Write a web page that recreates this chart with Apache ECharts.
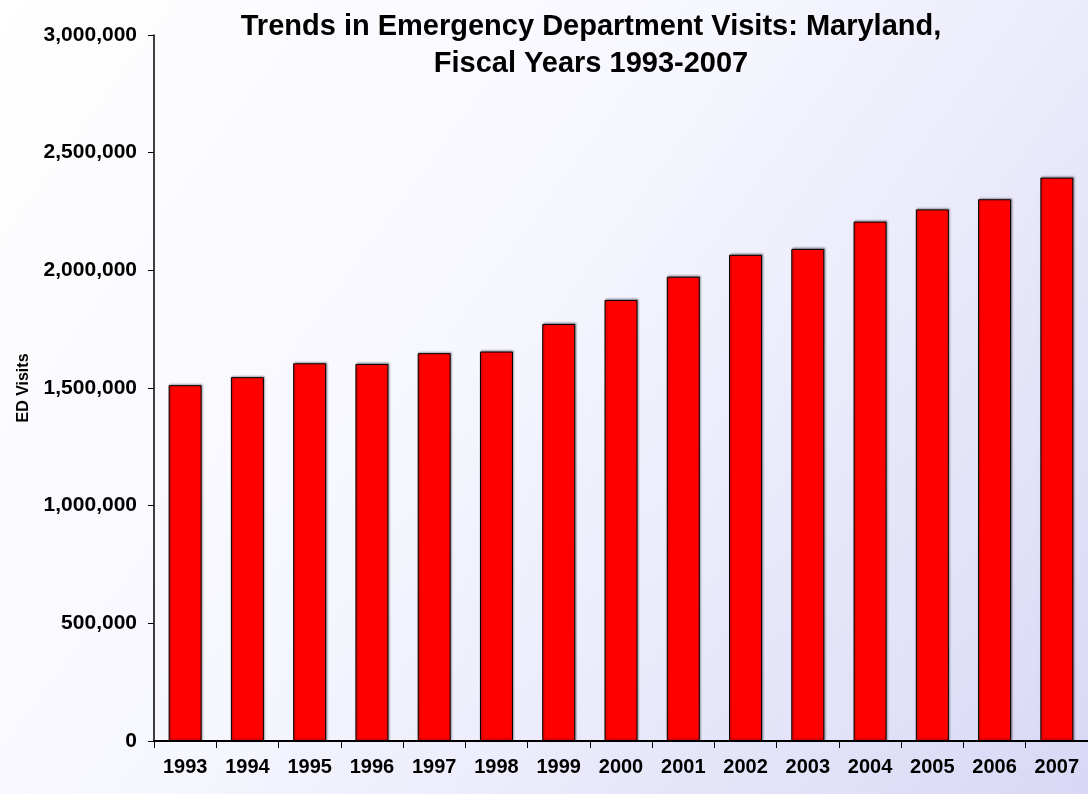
<!DOCTYPE html>
<html>
<head>
<meta charset="utf-8">
<script src="https://cdn.jsdelivr.net/npm/echarts@6/dist/echarts.min.js"></script>
<style>
  html, body { margin: 0; padding: 0; }
  #chart { width: 1088px; height: 794px; }
</style>
</head>
<body>
<div id="chart"></div>
<script>
var years = ['1993', '1994', '1995', '1996', '1997', '1998', '1999', '2000',
             '2001', '2002', '2003', '2004', '2005', '2006', '2007'];
var visits = [1512000, 1546000, 1605000, 1602000, 1648000, 1655000, 1772000, 1874000,
              1973000, 2066000, 2091000, 2207000, 2259000, 2302000, 2394000];
var yTicks = [0, 500000, 1000000, 1500000, 2000000, 2500000, 3000000];

var chart = echarts.init(document.getElementById('chart'));

function fmt(v) {
    return v.toString().replace(/\B(?=(\d{3})+(?!\d))/g, ',');
}

chart.setOption({
    animation: false,
    backgroundColor: {
        type: 'linear', x: 0, y: 0, x2: 1, y2: 1,
        colorStops: [
            { offset: 0, color: '#ffffff' },
            { offset: 0.45, color: '#f6f6fe' },
            { offset: 1, color: '#d8d8f6' }
        ]
    },
    title: {
        text: 'Trends in Emergency Department Visits: Maryland,\nFiscal Years 1993-2007',
        left: 586,
        top: 3,
        textAlign: 'center',
        textStyle: {
            fontFamily: 'Liberation Sans, Arial, sans-serif',
            fontWeight: 'bold',
            fontSize: 29,
            lineHeight: 37,
            color: '#000'
        }
    },
    grid: {
        left: 154,
        right: -6,
        top: 35,
        bottom: 53
    },
    xAxis: {
        type: 'category',
        data: years,
        axisLine: { lineStyle: { color: '#000', width: 2 } },
        axisTick: { show: true, length: 7, lineStyle: { color: '#000', width: 1 } },
        axisLabel: {
            margin: 16,
            color: '#000',
            fontFamily: 'Liberation Sans, Arial, sans-serif',
            fontWeight: 'bold',
            fontSize: 20
        },
        splitLine: { show: false }
    },
    yAxis: {
        type: 'value',
        min: 0,
        max: 3000000,
        interval: 500000,
        name: 'ED Visits',
        nameLocation: 'middle',
        nameGap: 122,
        nameRotate: 90,
        nameTextStyle: {
            fontFamily: 'Liberation Sans, Arial, sans-serif',
            fontWeight: 'bold',
            fontSize: 16,
            color: '#000'
        },
        axisLine: { show: true, lineStyle: { color: '#000', width: 1.5 } },
        axisTick: { show: true, length: 6, lineStyle: { color: '#000', width: 1 } },
        axisLabel: {
            margin: 17,
            color: '#000',
            fontFamily: 'Liberation Sans, Arial, sans-serif',
            fontWeight: 'bold',
            fontSize: 21,
            formatter: function (v) {
                return yTicks.indexOf(v) >= 0 ? fmt(v) : '';
            }
        },
        splitLine: { show: false }
    },
    series: [
        {
            name: 'ED Visits',
            type: 'bar',
            data: visits,
            barWidth: 33,
            itemStyle: {
                color: '#ff0000',
                borderColor: '#000',
                borderWidth: 1,
                shadowColor: 'rgba(0,0,0,0.35)',
                shadowBlur: 2,
                shadowOffsetX: 1,
                shadowOffsetY: -1
            }
        }
    ]
});
</script>
</body>
</html>
